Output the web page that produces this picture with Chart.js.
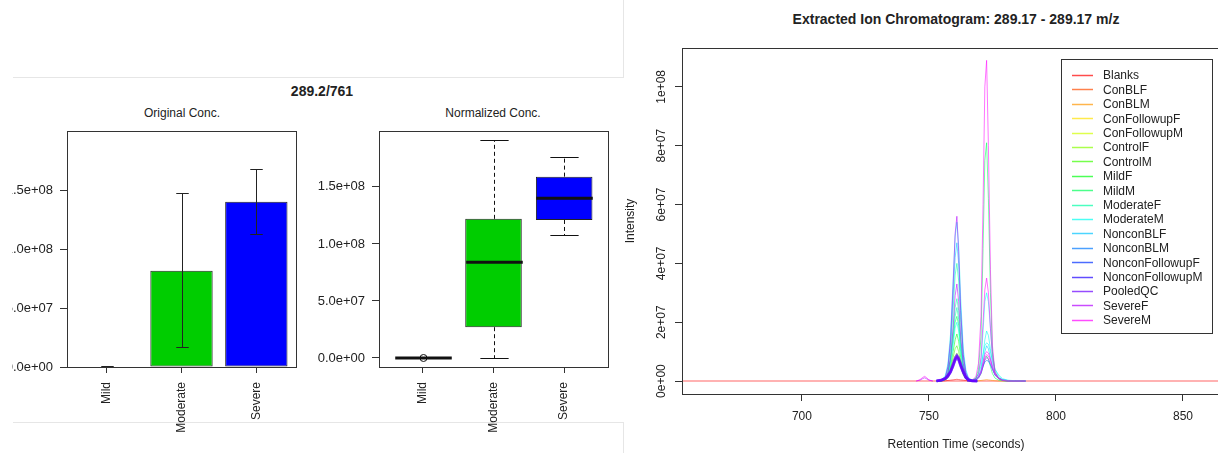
<!DOCTYPE html>
<html>
<head>
<meta charset="utf-8">
<title>289.2/761</title>
<script src="https://cdn.jsdelivr.net/npm/chart.js@4.4.1/dist/chart.umd.min.js"></script>
<style>
  html, body { margin: 0; padding: 0; background: #fff; width: 1218px; height: 453px; overflow: hidden; }
  body { position: relative; font-family: "Liberation Sans", Arial, sans-serif; color: #222; }
  .rule { position: absolute; background: #e6e6e6; }
  .ttl { position: absolute; text-align: center; white-space: nowrap; }
  canvas { position: absolute; }
</style>
</head>
<body>
<div class="rule" style="left:13px;top:77px;width:611px;height:1px"></div>
<div class="rule" style="left:13px;top:422px;width:611px;height:1px"></div>
<div class="rule" style="left:623px;top:0;width:1px;height:77px"></div>
<div class="rule" style="left:623px;top:422px;width:1px;height:31px"></div>

<div class="ttl" style="left:222px;top:83px;width:200px;font:bold 14px 'Liberation Sans',Arial,sans-serif;line-height:17px">289.2/761</div>
<div class="ttl" style="left:82px;top:106px;width:200px;font:12px 'Liberation Sans',Arial,sans-serif;line-height:15px">Original Conc.</div>
<div class="ttl" style="left:393px;top:106px;width:200px;font:12px 'Liberation Sans',Arial,sans-serif;line-height:15px">Normalized Conc.</div>
<div class="ttl" style="left:706px;top:11px;width:500px;font:bold 14px 'Liberation Sans',Arial,sans-serif;line-height:17px">Extracted Ion Chromatogram: 289.17 - 289.17 m/z</div>

<div style="position:absolute;left:12px;top:77px;width:351px;height:376px;overflow:hidden">
  <canvas id="barChart" width="363" height="376" style="left:-12px;top:0"></canvas>
</div>
<canvas id="boxChart" width="363" height="376" style="left:312px;top:77px"></canvas>
<canvas id="eicChart" width="640" height="453" style="left:610px;top:0"></canvas>

<script>
// ---- group bar chart / box plot data ----
const conditions = ['Mild', 'Moderate', 'Severe'];
const conditionColors = ['#FF0000', '#00CD00', '#0000FF'];

// Original Conc. (mean with error bars)
const barPositions = [0.7, 1.9, 3.1];
const origMean = [0.4e6, 8.16e7, 1.40e8];
const origLow = [0.1e6, 1.69e7, 1.127e8];
const origHigh = [0.8e6, 1.475e8, 1.678e8];
const concTicks = [0, 5e7, 1e8, 1.5e8];

// Normalized Conc. (box plot)
const boxPositions = [1, 2, 3];
const normMin = [0, 0, 1.08e8];
const normQ1 = [0, 2.7e7, 1.21e8];
const normMedian = [0, 8.4e7, 1.40e8];
const normQ3 = [0, 1.22e8, 1.59e8];
const normMax = [0, 1.91e8, 1.76e8];
const normOutliers = [[0], [], []];

// ---- extracted ion chromatogram ----
const groupNames = ['Blanks', 'ConBLF', 'ConBLM', 'ConFollowupF', 'ConFollowupM', 'ControlF', 'ControlM',
  'MildF', 'MildM', 'ModerateF', 'ModerateM', 'NonconBLF', 'NonconBLM', 'NonconFollowupF',
  'NonconFollowupM', 'PooledQC', 'SevereF', 'SevereM'];
const groupColors = ['#FF0000', '#FF4B00', '#FF9600', '#FFE100', '#D2FF00', '#87FF00', '#3CFF00',
  '#00FF0F', '#00FF5A', '#00FFA5', '#00FFF0', '#00C3FF', '#0078FF', '#002DFF',
  '#1E00FF', '#6900FF', '#B400FF', '#FF00FF'];
const rtTicks = [700, 750, 800, 850];
const intensityTicks = [0, 2e7, 4e7, 6e7, 8e7, 1e8];

// retention times (s)
const rtFull = [652.8, 868.5];
const rtEarly = [745, 746.5, 747.5, 748.3, 749, 750, 751.5];
const rtPeak1 = [753, 755, 756.5, 757.5, 758.5, 759.5, 760.3, 761, 761.7, 762.5, 763.5, 764.5, 765.5, 767, 769];
const rtPeak2 = [765, 767, 768.5, 769.5, 770.5, 771.3, 772, 772.7, 773.4, 774.2, 775, 776, 777.5, 779, 781, 784, 788];

// intensities in millions
const blanksFlat = [0, 0];
const blanksP1 = [0, 0, 0.1, 0.2, 0.3, 0.4, 0.5, 0.6, 0.5, 0.4, 0.3, 0.2, 0.1, 0, 0];
const severeF_P1a = [0, 0.3, 1.5, 5, 14, 32, 50, 56, 44, 24, 9, 3, 1, 0.2, 0];
const severeF_P1b = [0, 0.2, 0.9, 3, 8, 18, 29, 33, 27, 15, 6, 2, 0.6, 0.1, 0];
const moderateM_P1a = [0, 0.4, 2, 6, 16, 34, 49, 54, 46, 28, 11, 4, 1.2, 0.3, 0];
const moderateM_P1b = [0, 0.1, 0.7, 2, 6, 12, 18, 20, 17, 10, 4, 1.3, 0.4, 0.1, 0];
const nonconBLF_P1 = [0, 0.3, 1.5, 5, 13, 29, 42, 47, 40, 24, 9, 3, 1, 0.2, 0];
const moderateF_P1a = [0, 0.2, 1.2, 4, 11, 24, 36, 40, 34, 20, 8, 2.5, 0.8, 0.2, 0];
const moderateF_P1b = [0, 0.2, 1, 3, 8, 17, 25, 28, 24, 14, 5.5, 2, 0.6, 0.1, 0];
const moderateF_P1c = [0, 0.2, 0.9, 2.5, 7, 15, 22, 25, 21, 12, 5, 1.8, 0.5, 0.1, 0];
const mildM_P1 = [0, 0.1, 0.8, 2.5, 7, 14, 20, 22, 19, 11, 4.5, 1.5, 0.5, 0.1, 0];
const mildF_P1 = [0, 0.1, 0.6, 1.8, 5, 10, 14, 16, 13.5, 8, 3, 1, 0.3, 0, 0];
const controlM_P1 = [0, 0.1, 0.5, 1.5, 4, 8, 11, 12, 10, 6, 2.5, 0.8, 0.2, 0, 0];
const controlF_P1 = [0, 0.1, 0.4, 1, 3, 6, 8.5, 9.5, 8, 5, 2, 0.7, 0.2, 0, 0];
const pooledQC_P1a = [0, 0.5, 1, 2, 3.5, 6, 8, 8.8, 8, 6, 3.5, 1.5, 0.5, 0.1, 0];
const pooledQC_P1b = [0, 0.4, 0.9, 1.8, 3.2, 5.5, 7.5, 8.3, 7.6, 5.5, 3.2, 1.3, 0.4, 0.1, 0];
const pooledQC_P1c = [0, 0.3, 0.8, 1.6, 3, 5, 7, 7.8, 7, 5, 2.8, 1.1, 0.3, 0, 0];
const nonconFupM_P1 = [0, 0.3, 0.8, 1.7, 3, 5.2, 7.2, 8.4, 7.4, 5.2, 3, 1.2, 0.4, 0, 0];
const severeM_P2a = [0, 0.3, 1.5, 6, 22, 60, 100, 109, 80, 38, 12, 3, 0.8, 0.2, 0, 0, 0];
const mildM_P2a = [0, 0.2, 1, 4, 15, 45, 75, 81, 62, 30, 10, 3, 0.8, 0.2, 0, 0, 0];
const severeM_P2b = [0, 0.2, 0.8, 2.5, 8, 20, 31, 35, 30, 18, 8, 3, 1, 0.3, 0, 0, 0];
const moderateM_P2a = [0, 0.2, 0.8, 2.5, 7, 17, 27, 30, 27, 18, 9, 4, 1.5, 0.5, 0.1, 0, 0];
const moderateM_P2c = [0, 0.3, 1, 2.5, 5, 9, 12, 13, 12.5, 10, 7, 4, 2, 0.8, 0.3, 0.1, 0];
const severeM_P2c = [0, 0.2, 0.6, 1.5, 3.5, 6.5, 9, 10, 9.5, 7.5, 5, 2.5, 1, 0.3, 0.1, 0, 0];
const severeM_P2d = [0, 0.2, 0.5, 1.3, 3, 5.5, 8, 9, 8.5, 7, 4.5, 2.2, 0.8, 0.3, 0.1, 0, 0];
const moderateM_P2b = [0, 0.1, 0.5, 1.5, 4, 9, 14, 17, 15.5, 11, 6, 2.5, 1, 0.3, 0.1, 0, 0];
const nonconBLF_P2 = [0, 0.1, 0.4, 1.2, 3, 6.5, 10, 12, 11, 8, 4.5, 2, 0.7, 0.2, 0, 0, 0];
const nonconBLM_P2 = [0, 0.2, 0.6, 1.5, 3, 5, 6.5, 7, 6.8, 5.5, 4, 2.2, 1, 0.4, 0.2, 0.1, 0];
const severeF_P2 = [0, 0.1, 0.4, 1, 2.5, 5, 7, 8, 7.5, 6, 4, 2, 1, 0.4, 0.2, 0.1, 0];
const mildM_P2b = [0, 0.1, 0.4, 1, 2.5, 5, 7.5, 8.5, 7.5, 5, 2.5, 1, 0.3, 0.1, 0, 0, 0];
const conBLM_P2 = [0, 0, 0, 0.1, 0.2, 0.3, 0.4, 0.5, 0.4, 0.3, 0.2, 0.1, 0, 0, 0, 0, 0];
const severeM_early = [0, 0.5, 1.2, 1.6, 1.2, 0.4, 0];
const severeF_early = [0, 0.3, 0.8, 1.1, 0.8, 0.3, 0];

const traces = [
  ['PooledQC', rtPeak1, pooledQC_P1a], ['PooledQC', rtPeak1, pooledQC_P1b], ['PooledQC', rtPeak1, pooledQC_P1c],
  ['NonconFollowupM', rtPeak1, nonconFupM_P1],
  ['SevereF', rtPeak1, severeF_P1a], ['SevereF', rtPeak1, severeF_P1b],
  ['ModerateM', rtPeak1, moderateM_P1a], ['ModerateM', rtPeak1, moderateM_P1b],
  ['NonconBLF', rtPeak1, nonconBLF_P1],
  ['ModerateF', rtPeak1, moderateF_P1a], ['ModerateF', rtPeak1, moderateF_P1b], ['ModerateF', rtPeak1, moderateF_P1c],
  ['MildM', rtPeak1, mildM_P1], ['MildF', rtPeak1, mildF_P1], ['ControlM', rtPeak1, controlM_P1],
  ['ControlF', rtPeak1, controlF_P1],
  ['Blanks', rtPeak1, blanksP1],
  ['SevereM', rtPeak2, severeM_P2a], ['MildM', rtPeak2, mildM_P2a], ['SevereM', rtPeak2, severeM_P2b],
  ['ModerateM', rtPeak2, moderateM_P2a], ['SevereM', rtPeak2, severeM_P2c], ['SevereM', rtPeak2, severeM_P2d],
  ['ModerateM', rtPeak2, moderateM_P2b], ['ModerateM', rtPeak2, moderateM_P2c],
  ['NonconBLF', rtPeak2, nonconBLF_P2], ['NonconBLM', rtPeak2, nonconBLM_P2], ['SevereF', rtPeak2, severeF_P2],
  ['MildM', rtPeak2, mildM_P2b], ['ConBLM', rtPeak2, conBLM_P2],
  ['SevereM', rtEarly, severeM_early], ['SevereF', rtEarly, severeF_early],
  ['Blanks', rtFull, blanksFlat]
];
const thickGroups = ['PooledQC', 'NonconFollowupM'];

// ---- helpers ----
function sci(v, digits) {
  if (v === 0) return (0).toFixed(digits) + 'e+00';
  const exp = Math.floor(Math.log10(Math.abs(v)) + 1e-9);
  const mant = v / Math.pow(10, exp);
  return mant.toFixed(digits) + 'e' + (exp < 0 ? '-' : '+') + String(Math.abs(exp)).padStart(2, '0');
}
function rgba(hex, a) {
  const n = parseInt(hex.slice(1), 16);
  return `rgba(${n >> 16}, ${(n >> 8) & 255}, ${n & 255}, ${a})`;
}
const crisp = v => Math.round(v) + 0.5;

Chart.defaults.font.family = '"Liberation Sans", Arial, sans-serif';
Chart.defaults.font.size = 12;
Chart.defaults.color = '#222';

const frameBox = {
  id: 'frameBox',
  afterDraw(chart) {
    const { ctx, chartArea: a } = chart;
    ctx.save();
    ctx.strokeStyle = '#333';
    ctx.lineWidth = 1;
    ctx.strokeRect(crisp(a.left), crisp(a.top), Math.round(a.right - a.left), Math.round(a.bottom - a.top));
    ctx.restore();
  }
};

const errorBars = {
  id: 'errorBars',
  afterDatasetsDraw(chart) {
    const { ctx, scales: { x, y } } = chart;
    ctx.save();
    ctx.strokeStyle = '#222';
    ctx.lineWidth = 1;
    barPositions.forEach((p, i) => {
      const px = crisp(x.getPixelForValue(p));
      const half = x.getPixelForValue(p + 0.1) - x.getPixelForValue(p);
      const lo = crisp(y.getPixelForValue(origLow[i]));
      const hi = crisp(y.getPixelForValue(origHigh[i]));
      ctx.beginPath();
      ctx.moveTo(px, lo); ctx.lineTo(px, hi);
      ctx.moveTo(px - half, lo); ctx.lineTo(px + half, lo);
      ctx.moveTo(px - half, hi); ctx.lineTo(px + half, hi);
      ctx.stroke();
    });
    ctx.restore();
  }
};

const boxParts = {
  id: 'boxParts',
  afterDatasetsDraw(chart) {
    const { ctx, scales: { x, y } } = chart;
    ctx.save();
    ctx.strokeStyle = '#111';
    boxPositions.forEach((p, i) => {
      const px = crisp(x.getPixelForValue(p));
      const boxHalf = x.getPixelForValue(p + 0.4) - x.getPixelForValue(p);
      const capHalf = x.getPixelForValue(p + 0.2) - x.getPixelForValue(p);
      const yMin = crisp(y.getPixelForValue(normMin[i]));
      const yQ1 = y.getPixelForValue(normQ1[i]);
      const yQ3 = y.getPixelForValue(normQ3[i]);
      const yMax = crisp(y.getPixelForValue(normMax[i]));
      // whiskers
      ctx.lineWidth = 1;
      ctx.setLineDash([4, 3]);
      ctx.beginPath();
      ctx.moveTo(px, yQ1); ctx.lineTo(px, yMin);
      ctx.moveTo(px, yQ3); ctx.lineTo(px, yMax);
      ctx.stroke();
      ctx.setLineDash([]);
      ctx.beginPath();
      ctx.moveTo(px - capHalf, yMin); ctx.lineTo(px + capHalf, yMin);
      ctx.moveTo(px - capHalf, yMax); ctx.lineTo(px + capHalf, yMax);
      ctx.stroke();
      // median
      const yMed = y.getPixelForValue(normMedian[i]);
      ctx.lineWidth = 3;
      ctx.beginPath();
      ctx.moveTo(px - boxHalf, yMed); ctx.lineTo(px + boxHalf, yMed);
      ctx.stroke();
      // outliers
      ctx.lineWidth = 1;
      normOutliers[i].forEach(v => {
        ctx.beginPath();
        ctx.arc(px, y.getPixelForValue(v), 3.5, 0, Math.PI * 2);
        ctx.stroke();
      });
    });
    ctx.restore();
  }
};

const eicLegend = {
  id: 'eicLegend',
  afterDatasetsDraw(chart, args, opts) {
    const { ctx, chartArea: a } = chart;
    const x0 = Math.round(a.right - opts.insetRight - opts.width);
    const y0 = Math.round(a.top + opts.insetTop);
    ctx.save();
    ctx.fillStyle = '#fff';
    ctx.fillRect(x0, y0, opts.width, opts.height);
    ctx.strokeStyle = '#333';
    ctx.lineWidth = 1;
    ctx.strokeRect(x0 + 0.5, y0 + 0.5, opts.width, opts.height);
    ctx.font = '12px "Liberation Sans", Arial, sans-serif';
    ctx.textBaseline = 'middle';
    ctx.textAlign = 'left';
    groupNames.forEach((name, i) => {
      const ly = y0 + opts.firstRow + i * opts.rowGap;
      ctx.strokeStyle = rgba(groupColors[i], 0.7);
      ctx.lineWidth = 1.5;
      ctx.beginPath();
      ctx.moveTo(x0 + 11, Math.round(ly) + 0.5);
      ctx.lineTo(x0 + 32, Math.round(ly) + 0.5);
      ctx.stroke();
      ctx.fillStyle = '#222';
      ctx.fillText(name, x0 + 42, ly + 1);
    });
    ctx.restore();
  }
};

const tickGrid = { drawOnChartArea: false, color: '#333', lineWidth: 1, offset: false };

// ---- Original Conc. ----
new Chart(document.getElementById('barChart'), {
  type: 'bar',
  data: {
    datasets: [{
      data: barPositions.map((p, i) => ({ x: p, y: origMean[i] })),
      backgroundColor: conditionColors,
      borderColor: '#222',
      borderWidth: 1,
      borderSkipped: false,
      barPercentage: 0.833,
      categoryPercentage: 1
    }]
  },
  options: {
    responsive: false,
    animation: false,
    devicePixelRatio: 1,
    layout: { padding: { top: 54, right: 67, bottom: 0, left: 0 } },
    plugins: { legend: { display: false }, tooltip: { enabled: false } },
    scales: {
      x: {
        type: 'linear', min: 0.064, max: 3.736, offset: false,
        afterBuildTicks: s => { s.ticks = barPositions.map(v => ({ value: v })); },
        afterFit: s => { s.height = 86; },
        grid: { ...tickGrid, tickLength: 6 },
        border: { display: false },
        ticks: { callback: (v, i) => conditions[i], minRotation: 90, maxRotation: 90, autoSkip: false, padding: 9, font: { size: 12 } }
      },
      y: {
        min: 0, max: 2e8,
        afterBuildTicks: s => { s.ticks = concTicks.map(v => ({ value: v })); },
        afterFit: s => { s.width = 67; },
        grid: { ...tickGrid, tickLength: 7 },
        border: { display: false },
        ticks: { callback: v => sci(v, 1), padding: 7, font: { size: 13 } }
      }
    }
  },
  plugins: [frameBox, errorBars]
});

// ---- Normalized Conc. ----
new Chart(document.getElementById('boxChart'), {
  type: 'bar',
  data: {
    datasets: [{
      data: boxPositions.map((p, i) => ({ x: p, y: [normQ1[i], normQ3[i]] })),
      backgroundColor: conditionColors,
      borderColor: '#222',
      borderWidth: 1,
      borderSkipped: false,
      barPercentage: 0.8,
      categoryPercentage: 1
    }]
  },
  options: {
    responsive: false,
    animation: false,
    devicePixelRatio: 1,
    layout: { padding: { top: 54, right: 67, bottom: 0, left: 0 } },
    plugins: { legend: { display: false }, tooltip: { enabled: false } },
    scales: {
      x: {
        type: 'linear', min: 0.38, max: 3.62, offset: false,
        afterBuildTicks: s => { s.ticks = boxPositions.map(v => ({ value: v })); },
        afterFit: s => { s.height = 86; },
        grid: { ...tickGrid, tickLength: 6 },
        border: { display: false },
        ticks: { callback: (v, i) => conditions[i], minRotation: 90, maxRotation: 90, autoSkip: false, padding: 9, font: { size: 12 } }
      },
      y: {
        min: -7.9e6, max: 1.99e8,
        afterBuildTicks: s => { s.ticks = concTicks.map(v => ({ value: v })); },
        afterFit: s => { s.width = 67; },
        grid: { ...tickGrid, tickLength: 7 },
        border: { display: false },
        ticks: { callback: v => sci(v, 1), padding: 7, font: { size: 13 } }
      }
    }
  },
  plugins: [frameBox, boxParts]
});

// ---- Extracted Ion Chromatogram ----
const eicDatasets = traces.map(([group, rt, vals]) => {
  const gi = groupNames.indexOf(group);
  const isBase = rt === rtFull;
  return {
    label: group,
    data: rt.map((t, k) => ({ x: t, y: vals[k] * 1e6 })),
    borderColor: rgba(groupColors[gi], isBase ? 0.3 : 0.55),
    borderWidth: isBase ? 2 : (thickGroups.includes(group) ? 2.5 : 1),
    pointRadius: 0,
    tension: 0,
    fill: false
  };
});

new Chart(document.getElementById('eicChart'), {
  type: 'line',
  data: { datasets: eicDatasets },
  options: {
    responsive: false,
    animation: false,
    devicePixelRatio: 1,
    layout: { padding: { top: 48, right: 20, bottom: 0, left: 0 } },
    plugins: {
      legend: { display: false },
      tooltip: { enabled: false },
      eicLegend: { insetRight: 18, insetTop: 11, width: 151, height: 274, firstRow: 16, rowGap: 14.4 }
    },
    scales: {
      x: {
        type: 'linear', min: 652.8, max: 868.5,
        afterBuildTicks: s => { s.ticks = rtTicks.map(v => ({ value: v })); },
        afterFit: s => { s.height = 59; },
        grid: { ...tickGrid, tickLength: 7 },
        border: { display: false },
        ticks: { callback: v => String(v), padding: 8, font: { size: 12 } },
        title: { display: true, text: 'Retention Time (seconds)', font: { size: 12 }, padding: { top: 0, bottom: 1 } }
      },
      y: {
        min: -4.4e6, max: 1.132e8,
        afterBuildTicks: s => { s.ticks = intensityTicks.map(v => ({ value: v })); },
        afterFit: s => { s.width = 72; },
        grid: { ...tickGrid, tickLength: 7 },
        border: { display: false },
        ticks: { callback: v => sci(v, 0), minRotation: 90, maxRotation: 90, crossAlign: 'center', padding: -4, font: { size: 12 } },
        title: { display: true, text: 'Intensity', font: { size: 12 }, padding: { top: 13, bottom: 0 } }
      }
    }
  },
  plugins: [frameBox, eicLegend]
});
</script>
</body>
</html>
